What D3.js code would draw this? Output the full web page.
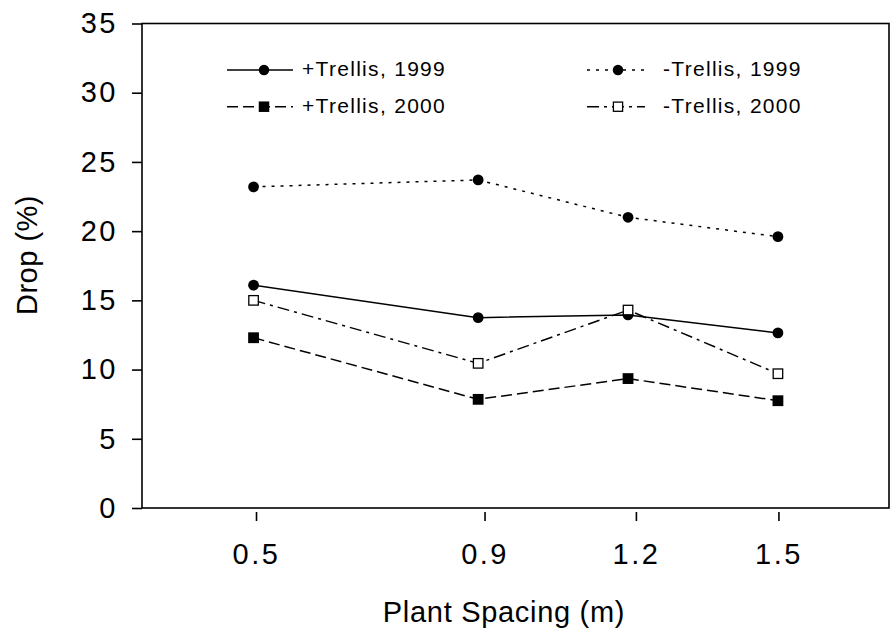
<!DOCTYPE html>
<html>
<head>
<meta charset="utf-8">
<script src="https://cdn.jsdelivr.net/npm/d3@7"></script>
<style>
  body { margin: 0; background: #fff; }
  svg { display: block; font-family: "Liberation Sans", Arial, sans-serif; }
</style>
</head>
<body>
<svg id="chart" width="890" height="635"></svg>
<script>
// Data (plant spacing in m)
const spacing = [0.457, 0.914, 1.219, 1.524];
const tickPos = [0.462, 0.927, 1.235, 1.525];
const tickLabels = ['0.5', '0.9', '1.2', '1.5'];
const yTicks = [0, 5, 10, 15, 20, 25, 30, 35];

const seriesNames = ['+Trellis, 1999', '-Trellis, 1999', '+Trellis, 2000', '-Trellis, 2000'];
const plusTrellis1999 = [16.1, 13.75, 13.95, 12.65];
const minusTrellis1999 = [23.2, 23.7, 21.0, 19.6];
const plusTrellis2000 = [12.3, 7.85, 9.35, 7.75];
const minusTrellis2000 = [15.0, 10.45, 14.3, 9.7];

// Styles
const styles = [
    { values: plusTrellis1999, dash: null, marker: 'circle', fill: '#000' },
    { values: minusTrellis1999, dash: '3,6', marker: 'circle', fill: '#000' },
    { values: plusTrellis2000, dash: '11,5', marker: 'square', fill: '#000' },
    { values: minusTrellis2000, dash: '12,5,3,5', marker: 'square', fill: '#fff' }
];

const svg = d3.select('#chart');
const plotLeft = 142, plotRight = 889, plotTop = 23.5, plotBottom = 508;

const x = d3.scaleLinear().domain([0.23, 1.75]).range([plotLeft, plotRight]);
const y = d3.scaleLinear().domain([0, 35]).range([plotBottom, plotTop]);

// frame
svg.append('rect')
    .attr('x', plotLeft).attr('y', plotTop)
    .attr('width', plotRight - plotLeft).attr('height', plotBottom - plotTop)
    .attr('fill', 'none').attr('stroke', '#000').attr('stroke-width', 1.6);

// y axis
const yAxis = svg.append('g')
    .attr('transform', `translate(${plotLeft},0)`)
    .call(d3.axisLeft(y).tickValues(yTicks).tickSize(10).tickPadding(14));
yAxis.select('.domain').remove();
yAxis.selectAll('line').attr('stroke-width', 1.6);
yAxis.selectAll('text')
    .attr('font-size', 29).attr('fill', '#000')
    .attr('font-family', '"Liberation Sans", Arial, sans-serif')
    .style('letter-spacing', '2.5px');

// x axis (ticks sit a little below the frame)
const xAxis = svg.append('g')
    .attr('transform', `translate(0,${plotBottom + 4})`)
    .call(d3.axisBottom(x).tickValues(tickPos).tickFormat((d, i) => tickLabels[i]).tickSize(9).tickPadding(22));
xAxis.select('.domain').remove();
xAxis.selectAll('line').attr('stroke-width', 1.6);
xAxis.selectAll('text')
    .attr('font-size', 29).attr('fill', '#000')
    .attr('font-family', '"Liberation Sans", Arial, sans-serif')
    .style('letter-spacing', '2.5px');

// axis titles
svg.append('text')
    .attr('x', 504).attr('y', 622)
    .attr('text-anchor', 'middle')
    .attr('font-size', 29)
    .style('letter-spacing', '0.7px')
    .text('Plant Spacing (m)');

svg.append('text')
    .attr('transform', 'translate(37,255) rotate(-90)')
    .attr('text-anchor', 'middle')
    .attr('font-size', 29)
    .style('letter-spacing', '0.5px')
    .text('Drop (%)');

// markers
function drawMarker(g, type, fill, cx, cy, size) {
    if (type === 'circle') {
        g.append('circle')
            .attr('cx', cx).attr('cy', cy).attr('r', size / 2)
            .attr('fill', fill);
    } else if (fill === '#fff') {
        g.append('rect')
            .attr('x', cx - size / 2 + 0.65).attr('y', cy - size / 2 + 0.65)
            .attr('width', size - 1.3).attr('height', size - 1.3)
            .attr('fill', '#fff').attr('stroke', '#000').attr('stroke-width', 1.3);
    } else {
        g.append('rect')
            .attr('x', cx - size / 2).attr('y', cy - size / 2)
            .attr('width', size).attr('height', size)
            .attr('fill', fill);
    }
}

const line = d3.line()
    .x((d, i) => x(spacing[i]))
    .y(d => y(d));

styles.forEach(s => {
    const g = svg.append('g');
    g.append('path')
        .datum(s.values)
        .attr('d', line)
        .attr('fill', 'none')
        .attr('stroke', '#000')
        .attr('stroke-width', 1.5)
        .attr('stroke-dasharray', s.dash);
    s.values.forEach((v, i) => drawMarker(g, s.marker, s.fill, x(spacing[i]), y(v), 10.8));
});

// legend
const legendRows = [70, 106.7];
const legendCols = [
    { x0: 227, x1: 293, mx: 264, tx: 302 },
    { x0: 587, x1: 645, mx: 618, tx: 663 }
];
const legendOrder = [0, 2, 1, 3];

legendOrder.forEach((si, k) => {
    const col = legendCols[Math.floor(k / 2)];
    const ry = legendRows[k % 2];
    const s = styles[si];
    const g = svg.append('g');
    g.append('line')
        .attr('x1', col.x0).attr('x2', col.x1)
        .attr('y1', ry).attr('y2', ry)
        .attr('stroke', '#000').attr('stroke-width', 1.5)
        .attr('stroke-dasharray', s.dash);
    drawMarker(g, s.marker, s.fill, col.mx, ry, 10.5);
    g.append('text')
        .attr('x', col.tx).attr('y', ry + 6)
        .attr('font-size', 21)
        .style('letter-spacing', '1.3px')
        .text(seriesNames[si]);
});
</script>
</body>
</html>
